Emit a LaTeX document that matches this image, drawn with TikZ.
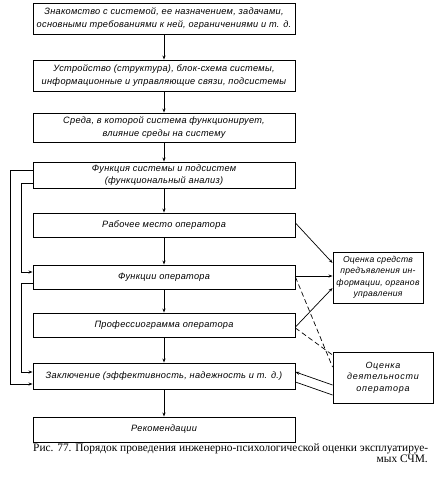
\documentclass[tikz,border=0pt]{standalone}
\usepackage{fontspec}
\setmainfont{Liberation Sans}[LetterSpace=3]
\newfontfamily\capfont{Liberation Serif}
\newfontfamily\wideit{Liberation Sans}[LetterSpace=8]
\usetikzlibrary{calc,arrows.meta}
\begin{document}
\begin{tikzpicture}[x=1pt,y=-1pt,
  mainbox/.style={draw,line width=0.9pt,minimum width=262pt,inner sep=0pt,align=center,
     font=\fontsize{9.2}{12.7}\selectfont\itshape},
  sidebox/.style={draw,line width=0.9pt,inner sep=0pt,align=center,
     font=\fontsize{8.6}{11.5}\selectfont\itshape},
  conn/.style={line width=0.7pt},
  arr/.style={conn,-{Stealth[length=4pt,width=3pt]}},
  dconn/.style={line width=0.7pt,dash pattern=on 5pt off 3pt}]
\useasboundingbox (0,0) rectangle (444,491);
\node[mainbox,minimum height=31pt] (n1) at (164,18.5) {Знакомство с системой, ее назначением, задачами,\\основными требованиями к ней, ограничениями и т. д.};
\node[mainbox,minimum height=31pt] (n2) at (164,75.5) {Устройство (структура), блок-схема системы,\\информационные и управляющие связи, подсистемы};
\node[mainbox,minimum height=29pt] (n3) at (164,127.5) {Среда, в которой система функционирует,\\влияние среды на систему};
\node[mainbox,minimum height=26pt] (n4) at (164,175) {Функция системы и подсистем\\(функциональный анализ)};
\node[mainbox,minimum height=24pt] (n5) at (164,225) {Рабочее место оператора};
\node[mainbox,minimum height=24pt] (n6) at (164,277) {Функции оператора};
\node[mainbox,minimum height=24pt] (n7) at (164,325) {Профессиограмма оператора};
\node[mainbox,minimum height=26pt] (n8) at (164,376) {Заключение (эффективность, надежность и т. д.)};
\node[mainbox,minimum height=25pt] (n9) at (164,429.5) {Рекомендации};
\node[sidebox,minimum width=90pt,minimum height=51pt] (A) at (378,277.5) {Оценка средств\\предъявления ин-\\формации, органов\\управления};
\node[sidebox,minimum width=100pt,minimum height=51pt,font=\fontsize{9}{11.5}\selectfont\wideit\itshape] (B) at (383,377.5) {Оценка\\деятельности\\оператора};
\node[anchor=west,inner sep=0pt,font=\capfont\fontsize{11.4}{10}\selectfont] (c1) at (33,449) {Рис. 77. Порядок проведения инженерно-психологической оценки эксплуатируе-};
\node[anchor=east,inner sep=0pt,font=\capfont\fontsize{11.4}{10}\selectfont] (c2) at (428,459) {мых СЧМ.};
% central arrows
\foreach \a/\b in {n1/n2,n2/n3,n3/n4,n4/n5,n5/n6,n6/n7,n7/n8,n8/n9}
  \draw[arr] (\a.south) -- (\b.north);
% left feedback lines
\draw[arr] ($(n4.west)+(0,-5)$) -- (10,170) |- ($(n8.west)+(0,8)$);
\draw[arr] ($(n4.west)+(0,8)$) -- (21,183) |- ($(n6.west)+(0,-5)$);
\draw[arr] ($(n6.west)+(0,6)$) -- (21,283) |- ($(n8.west)+(0,-4)$);
% right connections
\draw[arr] ($(n5.east)+(0,-2)$) -- ($(A.west)+(0,-14.5)$);
\draw[arr] ($(n6.east)+(0,-1)$) -- ($(A.west)+(0,-1.5)$);
\draw[arr] ($(n7.east)+(0,2)$) -- ($(A.west)+(0,10.5)$);
\draw[dconn] ($(n6.east)+(0,0)$) -- ($(B.west)+(0,-10.5)$);
\draw[dconn] ($(n7.east)+(0,3)$) -- ($(B.west)+(0,-22.5)$);
\draw[arr] ($(B.west)+(0,7.5)$) -- ($(n8.east)+(0,-4)$);
\draw[conn] ($(B.west)+(0,17.5)$) -- ($(n8.east)+(0,6)$);
\end{tikzpicture}
\end{document}
